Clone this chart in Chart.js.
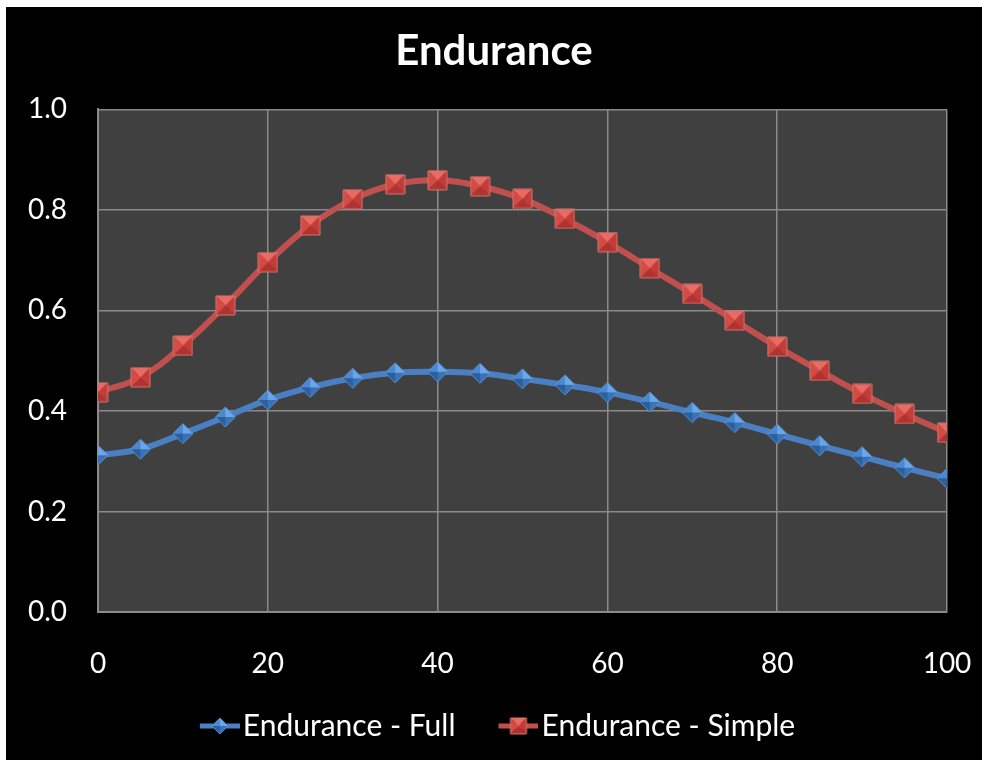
<!DOCTYPE html>
<html>
<head>
<meta charset="utf-8">
<title>Endurance</title>
<script src="https://cdn.jsdelivr.net/npm/chart.js@4"></script>
<style>
  body { margin: 0; background: #fff; }
  #wrap { position: absolute; left: 6px; top: 7px; width: 976px; height: 753px; background: #000; }
</style>
</head>
<body>
<div id="wrap"><canvas id="enduranceChart"></canvas></div>
<script>
// x positions and the two endurance curves
const xValues = [0, 5, 10, 15, 20, 25, 30, 35, 40, 45, 50, 55, 60, 65, 70, 75, 80, 85, 90, 95, 100];
const enduranceFull = [0.312, 0.324, 0.355, 0.388, 0.422, 0.447, 0.465, 0.476, 0.478, 0.475, 0.464, 0.452, 0.437, 0.418, 0.397, 0.377, 0.354, 0.331, 0.309, 0.287, 0.266];
const enduranceSimple = [0.437, 0.467, 0.530, 0.610, 0.696, 0.769, 0.821, 0.851, 0.859, 0.847, 0.822, 0.782, 0.736, 0.684, 0.633, 0.580, 0.528, 0.480, 0.434, 0.394, 0.357];
const xTicks = [0, 20, 40, 60, 80, 100];
const yTicks = [0.0, 0.2, 0.4, 0.6, 0.8, 1.0];

const FONT = "Lato";

// bevelled marker drawn on a small canvas, four faces meeting in the middle
function drawBevel(g, ox, oy, size, kind, faces, edge) {
  const h = size / 2;
  const cx = ox + h, cy = oy + h;
  let pts;
  if (kind === "square") {
    pts = [[ox, oy], [ox + size, oy], [ox + size, oy + size], [ox, oy + size]];
  } else {
    pts = [[cx, oy], [ox + size, cy], [cx, oy + size], [ox, cy]];
  }
  for (let i = 0; i < 4; i++) {
    const a = pts[i], b = pts[(i + 1) % 4];
    g.beginPath();
    g.moveTo(cx, cy);
    g.lineTo(a[0], a[1]);
    g.lineTo(b[0], b[1]);
    g.closePath();
    g.fillStyle = faces[i];
    g.fill();
  }
  g.beginPath();
  g.moveTo(pts[0][0], pts[0][1]);
  for (let i = 1; i < 4; i++) g.lineTo(pts[i][0], pts[i][1]);
  g.closePath();
  g.strokeStyle = edge;
  g.lineWidth = 1;
  g.stroke();
}

function makeMarker(kind, size, faces, edge) {
  const c = document.createElement("canvas");
  c.width = size + 2;
  c.height = size + 2;
  drawBevel(c.getContext("2d"), 1, 1, size, kind, faces, edge);
  return c;
}

// legend swatch: short line with a marker, kept on the right side of the image
function makeLegendIcon(kind, lineColor, faces, edge, width, lead) {
  const c = document.createElement("canvas");
  c.width = width + lead;
  c.height = 20;
  const g = c.getContext("2d");
  g.strokeStyle = lineColor;
  g.lineWidth = 5;
  g.beginPath();
  g.moveTo(lead, 10);
  g.lineTo(lead + width, 10);
  g.stroke();
  drawBevel(g, lead + width / 2 - 8, 2, 16, kind, faces, edge);
  return c;
}

const blueFaces = ["#6aa6e8", "#3a72b8", "#2c5f9e", "#4a88d2"];
const redFaces = ["#ea6a64", "#c43c38", "#b03330", "#d44a45"];

const blueMarker = makeMarker("diamond", 20, blueFaces, "#5b8fcf");
const redMarker = makeMarker("square", 19, redFaces, "#d8726e");
const blueIcon = makeLegendIcon("diamond", "#4a7fc4", blueFaces, "#5b8fcf", 40, 37);
const redIcon = makeLegendIcon("square", "#c0504d", redFaces, "#d8726e", 40, 37);

// dark plot area behind the grid
const plotBackground = {
  id: "plotBackground",
  beforeDraw(chart) {
    const { ctx, chartArea } = chart;
    ctx.save();
    ctx.fillStyle = "#404040";
    ctx.fillRect(chartArea.left, chartArea.top, chartArea.right - chartArea.left, chartArea.bottom - chartArea.top);
    ctx.restore();
  }
};

// the legend row sits a little left of the canvas centre
const legendShift = {
  id: "legendShift",
  afterLayout(chart) {
    chart.legend.left -= 9;
    chart.legend.right -= 9;
  }
};

const ctx = document.getElementById("enduranceChart").getContext("2d");

new Chart(ctx, {
  type: "line",
  data: {
    datasets: [{
      label: "Endurance - Full",
      data: xValues.map((x, i) => ({ x: x, y: enduranceFull[i] })),
      borderColor: "#4a7fc4",
      borderWidth: 6,
      pointStyle: blueMarker,
      tension: 0.4,
      legendIcon: blueIcon
    }, {
      label: "Endurance - Simple",
      data: xValues.map((x, i) => ({ x: x, y: enduranceSimple[i] })),
      borderColor: "#c0504d",
      borderWidth: 6,
      pointStyle: redMarker,
      tension: 0.4,
      legendIcon: redIcon
    }]
  },
  options: {
    responsive: true,
    maintainAspectRatio: false,
    animation: false,
    layout: { padding: { left: 0, right: 0, top: 0, bottom: 9 } },
    plugins: {
      title: {
        display: true,
        text: "Endurance",
        color: "#fff",
        font: { family: FONT, size: 42, weight: "bold" },
        padding: { top: 19, bottom: 33 }
      },
      legend: {
        position: "bottom",
        labels: {
          color: "#fff",
          font: { family: FONT, size: 30 },
          padding: 18,
          usePointStyle: true,
          pointStyleWidth: 53,
          generateLabels(chart) {
            return chart.data.datasets.map((ds, i) => ({
              text: ds.label,
              fontColor: "#fff",
              pointStyle: ds.legendIcon,
              datasetIndex: i,
              hidden: false,
              lineWidth: 0
            }));
          }
        }
      },
      tooltip: { enabled: false }
    },
    scales: {
      x: {
        type: "linear",
        min: 0,
        max: 100,
        afterBuildTicks(scale) { scale.ticks = xTicks.map(v => ({ value: v })); },
        afterFit(scale) { scale.height = 81; },
        grid: { color: "#8a8a8a", lineWidth: 1.5, drawTicks: true, tickLength: 35, tickColor: "transparent" },
        border: { color: "#8a8a8a", width: 2 },
        ticks: { color: "#fff", font: { family: FONT, size: 28 }, padding: 0, maxRotation: 0 }
      },
      y: {
        min: 0,
        max: 1,
        afterBuildTicks(scale) { scale.ticks = yTicks.map(v => ({ value: v })); },
        afterFit(scale) { scale.width = 92; },
        grid: { color: "#8a8a8a", lineWidth: 1.5, drawTicks: false },
        border: { color: "#8a8a8a", width: 2 },
        ticks: {
          color: "#fff",
          font: { family: FONT, size: 28 },
          padding: 31,
          callback: v => v.toFixed(1)
        }
      },
      yRight: {
        position: "right",
        afterFit(scale) { scale.width = 35; },
        grid: { display: false },
        border: { display: false },
        ticks: { display: false }
      }
    }
  },
  plugins: [plotBackground, legendShift]
});
</script>
</body>
</html>
